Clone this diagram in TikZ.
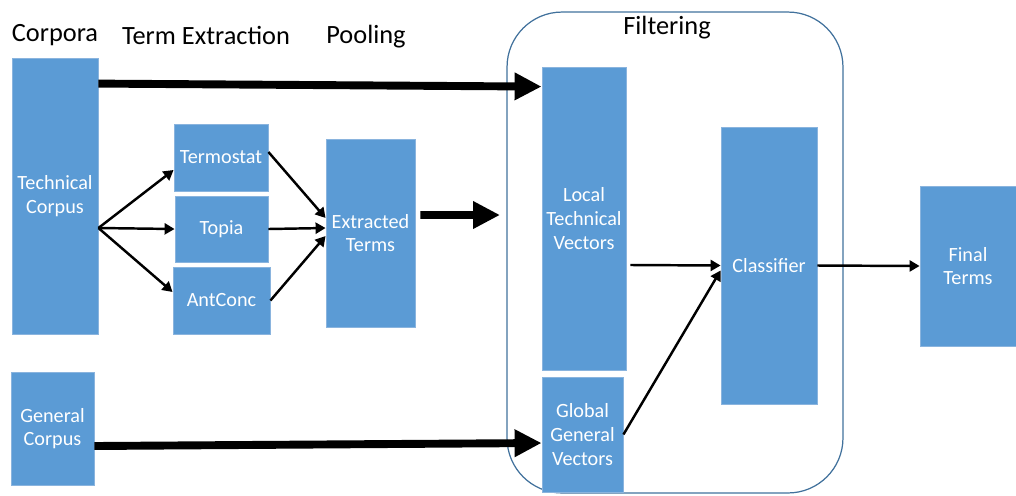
\documentclass[tikz,border=0pt]{standalone}
\usepackage{fontspec}
\setmainfont{Carlito}
\usetikzlibrary{arrows.meta}
\definecolor{boxblue}{HTML}{5B9BD5}
\definecolor{boxedge}{HTML}{8AB4DE}
\definecolor{frameblue}{HTML}{41719C}
\tikzstyle{stagebox}=[rectangle,fill=boxblue,draw=boxedge,line width=0.5pt,text=white,align=center,inner sep=1pt,font=\fontsize{11.5}{13.5}\selectfont]
\tikzstyle{heading}=[font=\fontsize{15}{18}\selectfont]
\tikzstyle{frame}=[rectangle,draw=frameblue,line width=0.7pt,rounded corners=1.1cm]
\tikzstyle{edge} = [draw,line width=1.4pt,-{Triangle[length=0.2cm,width=0.22cm]}]
\tikzstyle{bigedge} = [draw,line width=4.5pt,-{Triangle[length=0.54cm,width=0.52cm]}]

\begin{document}
\begin{tikzpicture}[x=0.02cm, y=-0.02cm]

    \useasboundingbox (0,0) rectangle (1016,495);

    % filtering frame
    \node[frame, minimum width=6.72cm, minimum height=9.62cm] (filter) at (675,252.5) {};

    % column headings
    \foreach \x/\y/\name/\txt in {55/35/corpora/Corpora, 206/35/extraction/Term Extraction, 366/37/pooling/Pooling, 667/28/filtering/Filtering}
        \node[heading] (\name) at (\x,\y) {\txt};

    % boxes
    \foreach \x/\y/\w/\h/\name/\txt in {55/196/1.72/5.52/tech/{Technical\\Corpus},
                                        52.5/428.5/1.66/2.26/gen/{General\\Corpus},
                                        221/157.5/1.88/1.34/termo/Termostat,
                                        221.5/229/1.86/1.32/topia/Topia,
                                        221.5/300.5/1.94/1.34/antconc/AntConc,
                                        370.5/233/1.78/3.76/extr/{Extracted\\Terms},
                                        584/218.5/1.68/6.06/local/{Local\\Technical\\Vectors},
                                        582.5/434.5/1.62/2.30/global/{Global\\General\\Vectors},
                                        769/265.5/1.92/5.54/clf/Classifier,
                                        968/266/1.92/3.20/final/{Final\\Terms}}
        \node[stagebox, minimum width=\w cm, minimum height=\h cm] (\name) at (\x,\y) {\txt};

    % ends of the connectors
    \coordinate (techtop) at ([yshift=-0.52cm]tech.north east);
    \coordinate (localtop) at ([yshift=-0.4cm]local.north west);
    \coordinate (techout) at ([yshift=-0.64cm]tech.east);
    \coordinate (termoin) at ([yshift=-0.25cm]termo.west);
    \coordinate (antconcin) at ([yshift=0.17cm]antconc.west);
    \coordinate (termoout) at ([yshift=0.11cm]termo.east);
    \coordinate (extrin1) at ([yshift=0.3cm]extr.west);
    \coordinate (extrin2) at ([yshift=0.1cm]extr.west);
    \coordinate (extrin3) at ([yshift=-0.06cm]extr.west);
    \coordinate (extrout) at ([xshift=0.1cm,yshift=0.36cm]extr.east);
    \coordinate (poolout) at (500,215);
    \coordinate (genout) at ([yshift=-0.35cm]gen.east);
    \coordinate (globalin) at ([yshift=-0.17cm]global.west);
    \coordinate (localout) at ([xshift=0.08cm,yshift=-0.93cm]local.east);
    \coordinate (clfin) at ([yshift=-0.1cm]clf.west);

    \foreach \source/\dest in {techtop/localtop, extrout/poolout, genout/globalin}
        \path[bigedge] (\source) -- (\dest);

    \foreach \source/\dest in {techout/termoin, techout/topia.west, techout/antconcin,
                               termoout/extrin1, topia.east/extrin2, antconc.east/extrin3,
                               localout/clf.west, global.east/clfin, clf.east/final.west}
        \path[edge] (\source) -- (\dest);

\end{tikzpicture}
\end{document}
